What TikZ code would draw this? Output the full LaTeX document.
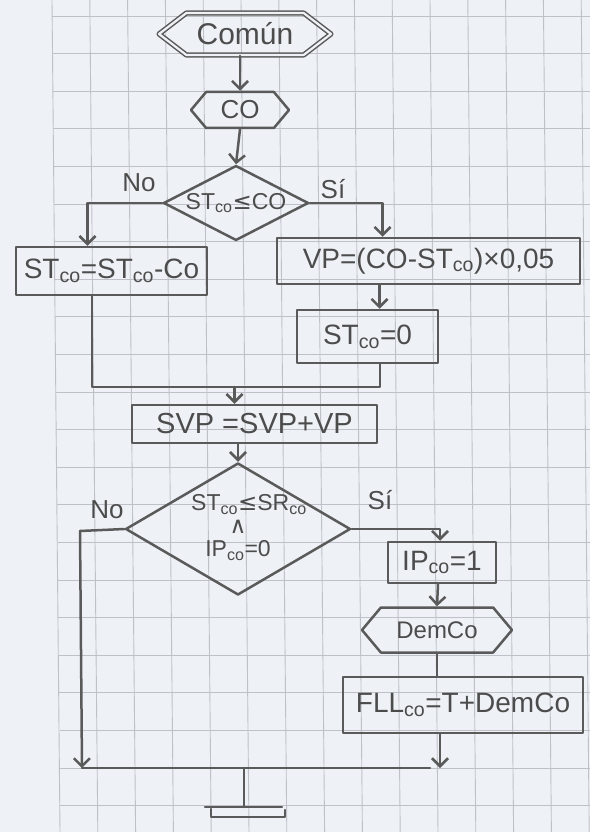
\documentclass[tikz,border=0pt]{standalone}
\usepackage{fontspec}
\setmainfont{Liberation Sans}
\newfontfamily\symf{DejaVu Sans}
\usetikzlibrary{shapes.geometric,shapes.symbols,arrows.meta,calc}
\definecolor{paper}{HTML}{EEF2F6}
\definecolor{gridc}{HTML}{BEC2C8}
\definecolor{pencil}{HTML}{5A5A5A}
\definecolor{ink}{HTML}{4C4C4C}
\newcommand\subc[1]{\textsubscript{#1}}
\begin{document}
\begin{tikzpicture}[x=1pt,y=-1pt,
  pen/.style={draw=pencil, line width=2.5pt, line cap=round, line join=round},
  arr/.style={pen, -{Straight Barb[length=8pt,width=16pt]}},
  box/.style={pen, rectangle, inner sep=0pt, text=ink, font=\fontsize{28}{30}\selectfont},
  hexa/.style={pen, signal, signal to=west and east, inner sep=0pt, text=ink, font=\fontsize{24}{26}\selectfont},
  dia/.style={pen, diamond, inner sep=0pt, text=ink, font=\fontsize{23}{25}\selectfont},
  lab/.style={text=ink, inner sep=0pt, font=\fontsize{26}{28}\selectfont}]
\useasboundingbox (0,0) rectangle (590,832);
\fill[paper] (0,0) rectangle (590,832);
% graph paper
\foreach \k in {0,...,14}
  \draw[gridc, line width=0.9pt] ({52+37.8*\k},0) -- ({60+37.8*\k},832);
\foreach \k in {0,...,21}
  \draw[gridc, line width=0.9pt] ({52+0.0104*(16+37.6*\k)},{16+37.6*\k}) -- (590,{16+37.6*\k});

% nodes
\node[hexa, line width=1.5pt, double=paper, double distance=2.2pt, minimum width=172, minimum height=42,
      signal pointer angle=75, font=\fontsize{30}{32}\selectfont] (comun) at (245,34) {Común};
\node[hexa, minimum width=98, minimum height=36, signal pointer angle=100, font=\fontsize{26}{28}\selectfont] (co) at (240,110) {CO};
\node[dia, minimum width=145, minimum height=75] (d1) at (236,203)
  {\makebox[0pt]{ST\subc{co}{\symf ≤}CO}};
\node[box, minimum width=191, minimum height=48] (lbox) at (111.5,271)
  {ST\subc{co}=ST\subc{co}-Co};
\node[box, minimum width=303, minimum height=46] (vpbox) at (428.5,261)
  {VP=(CO-ST\subc{co})×0,05};
\node[box, minimum width=141, minimum height=53] (st0) at (367.5,336.5)
  {ST\subc{co}=0};
\node[box, minimum width=245, minimum height=38, font=\fontsize{29}{31}\selectfont] (svp) at (254.5,424)
  {SVP =SVP+VP};
\node[dia, minimum width=225, minimum height=132] (d2) at (238,529)
  {\makebox[0pt]{\renewcommand\arraystretch{0.92}\begin{tabular}{@{}c@{}}\hspace*{22pt}ST\subc{co}{\symf ≤}SR\subc{co}\\{\symf ∧}\\IP\subc{co}=0\end{tabular}}};
\node[box, minimum width=108, minimum height=41] (ip1) at (442,562.5) {IP\subc{co}=1};
\node[hexa, minimum width=150, minimum height=45, signal pointer angle=100] (dem) at (437,630) {DemCo};
\node[box, minimum width=240, minimum height=56] (fll) at (463,705) {FLL\subc{co}=T+DemCo};

% labels
\node[lab] (noA) at (139,183) {No};
\node[lab] (siA) at (333,189) {Sí};
\node[lab] (noB) at (107,510) {No};
\node[lab] (siB) at (380,500) {Sí};

% connectors
\draw[arr] (comun.south -| co.north) -- (co.north);
\draw[arr] (co.south) -- (d1.north);
\draw[arr] (d1.west) -| ([xshift=-24]lbox.north);
\draw[arr] (d1.east) -| ([xshift=-46]vpbox.north);
\draw[arr] ([xshift=12]st0.north |- vpbox.south) -- ([xshift=12]st0.north);
\coordinate (mL) at (92,387);
\coordinate (mR) at (380,387);
\draw[pen] ([xshift=-19.5]lbox.south) -- (mL) -- (mR) -- (mR |- st0.south);
\draw[arr] ([xshift=-20]svp.north |- mL) -- ([xshift=-20]svp.north);
\draw[arr] (svp.south -| d2.north) -- (d2.north);
\coordinate (nL) at (80,531);
\coordinate (bL) at (82,768);
\coordinate (bR) at (440,768);
\coordinate (bE) at (430,768);
\draw[pen] (d2.west) -- (nL);
\draw[arr] (nL) -- (bL);
\draw[arr] (d2.east) -| ([xshift=-2]ip1.north);
\draw[arr] ([xshift=-4]ip1.south) -- (dem.north);
\draw[pen] (dem.south) -- (dem.south |- fll.north);
\draw[arr] (bR |- fll.south) -- (bR);
\draw[pen] (bL) -- (bE);
% end symbol
\coordinate (eT) at (244,768);
\coordinate (eB) at (244,807);
\draw[pen] (eT) -- (eB);
\draw[pen] ([xshift=-39]eB) -- ([xshift=38]eB);
\draw[pen] ([shift={(-33,2)}]eB) -- ([shift={(-33,10)}]eB) -- ([shift={(41,10)}]eB) -- ([shift={(41,3)}]eB);
\end{tikzpicture}
\end{document}
